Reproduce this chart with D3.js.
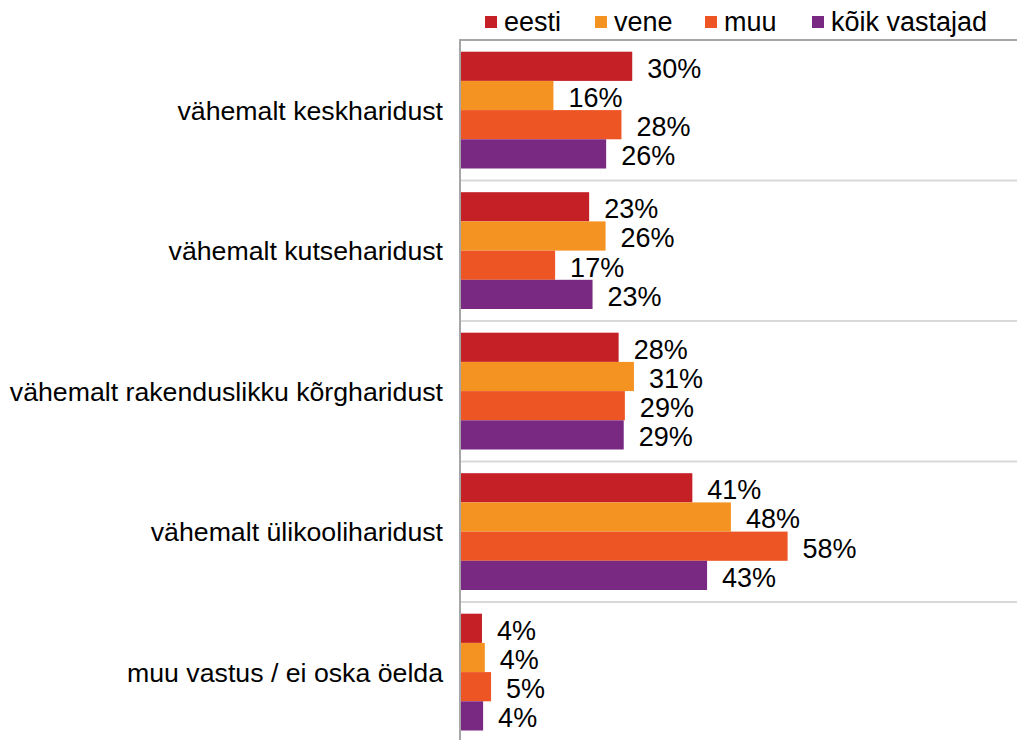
<!DOCTYPE html>
<html>
<head>
<meta charset="utf-8">
<script src="https://cdn.jsdelivr.net/npm/d3@7"></script>
<style>
  html, body { margin: 0; padding: 0; background: #fff; }
  text { font-family: "Liberation Sans", Arial, sans-serif; fill: #000; }
</style>
</head>
<body>
<svg id="chart" width="1017" height="740"></svg>
<script>
const categories = [
  "vähemalt keskharidust",
  "vähemalt kutseharidust",
  "vähemalt rakenduslikku kõrgharidust",
  "vähemalt ülikooliharidust",
  "muu vastus / ei oska öelda"
];
const seriesNames = ["eesti", "vene", "muu", "kõik vastajad"];
const eesti = [0.302, 0.226, 0.278, 0.408, 0.037];
const vene = [0.163, 0.255, 0.305, 0.476, 0.042];
const muu = [0.283, 0.166, 0.289, 0.576, 0.053];
const koik = [0.256, 0.232, 0.287, 0.434, 0.039];
const seriesValues = [eesti, vene, muu, koik];
const colors = ["#c42026", "#f49322", "#ee5524", "#7a2982"];

const svg = d3.select("#chart");
const fs = 27;
const fsCat = 26.7;

const x = d3.scaleLinear().domain([0, 1]).range([461, 1028]);
const y = d3.scaleBand().domain(categories).range([40, 742.5]);
const ySub = d3.scaleBand().domain(seriesNames).range([11.7, 128.5]);

// gridlines at band boundaries
svg.append("g").selectAll("line").data(categories.slice(1))
  .join("line")
  .attr("x1", 460).attr("x2", 1017)
  .attr("y1", d => y(d)).attr("y2", d => y(d))
  .attr("stroke", "#d9d9d9").attr("stroke-width", 2);
// top line
svg.append("line").attr("x1", 460).attr("x2", 1017)
  .attr("y1", y.range()[0]).attr("y2", y.range()[0])
  .attr("stroke", "#a6a6a6").attr("stroke-width", 2);

// bars
const rows = [];
categories.forEach((c, i) => {
  seriesNames.forEach((s, j) => {
    rows.push({ c, s, v: seriesValues[j][i], color: colors[j] });
  });
});

const fmt = d3.format(".0%");
svg.append("g").selectAll("rect").data(rows).join("rect")
  .attr("x", x(0))
  .attr("y", d => y(d.c) + ySub(d.s))
  .attr("width", d => x(d.v) - x(0))
  .attr("height", ySub.bandwidth())
  .attr("fill", d => d.color);

svg.append("g").selectAll("text").data(rows).join("text")
  .attr("x", d => x(d.v) + 15)
  .attr("y", d => y(d.c) + ySub(d.s) + ySub.bandwidth() / 2 + 2)
  .attr("dy", "0.35em")
  .attr("font-size", fs)
  .text(d => fmt(d.v));

// vertical axis line
svg.append("line").attr("x1", 460).attr("x2", 460)
  .attr("y1", 39).attr("y2", 742)
  .attr("stroke", "#a6a6a6").attr("stroke-width", 2);

// category labels
svg.append("g").selectAll("text").data(categories).join("text")
  .attr("x", 443)
  .attr("y", d => y(d) + y.bandwidth() / 2)
  .attr("dy", "0.35em")
  .attr("text-anchor", "end")
  .attr("font-size", fsCat)
  .text(d => d);

// legend
const legendX = [485, 595, 705, 812];
const lg = svg.append("g").selectAll("g").data(seriesNames).join("g")
  .attr("transform", (d, i) => `translate(${legendX[i]},22)`);
lg.append("rect").attr("x", 0).attr("y", -6).attr("width", 12).attr("height", 12)
  .attr("fill", (d, i) => colors[i]);
lg.append("text").attr("x", 19).attr("y", 0).attr("dy", "0.35em")
  .attr("font-size", fs).text(d => d);
</script>
</body>
</html>
